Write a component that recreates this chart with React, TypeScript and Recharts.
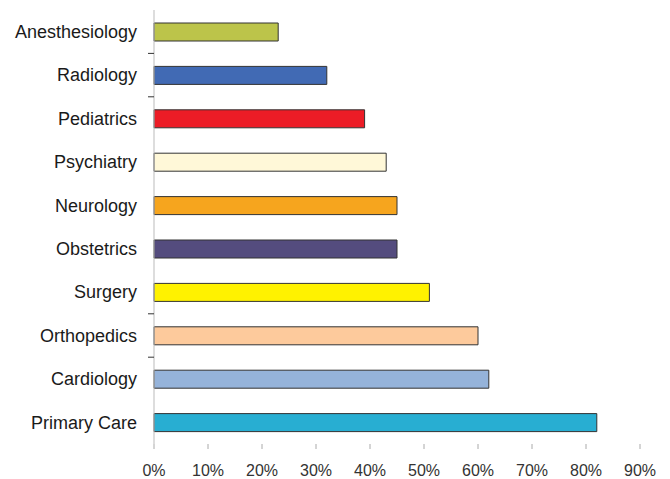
import React from "react";
import { BarChart, Bar, XAxis, YAxis, Cell } from "recharts";

const specialties = [
  "Anesthesiology",
  "Radiology",
  "Pediatrics",
  "Psychiatry",
  "Neurology",
  "Obstetrics",
  "Surgery",
  "Orthopedics",
  "Cardiology",
  "Primary Care",
];
const shares = [23, 32, 39, 43, 45, 45, 51, 60, 62, 82];
const barColors = [
  "#bcc44a",
  "#416ab4",
  "#ec1c26",
  "#fff8d8",
  "#f6a51e",
  "#544c7e",
  "#fff200",
  "#fdca9c",
  "#95b3da",
  "#28aed2",
];
const percentTicks = [0, 10, 20, 30, 40, 50, 60, 70, 80, 90];
// the original only shows a few separator marks on the category axis
const markedRows = [0, 1, 6, 7];

const data = specialties.map((name, i) => ({ name, value: shares[i] }));

const FONT = "'Liberation Sans', Arial, sans-serif";
const ROW = 43.4;

const CategoryTick = (props: any) => {
  const { x, y, payload, index } = props;
  const axisX = x + 17;
  return (
    <g>
      <text x={x} y={y} dy="0.355em" textAnchor="end" fontSize={18} fontFamily={FONT} fill="#1a1a1a">
        {payload.value}
      </text>
      {markedRows.includes(index) && (
        <line x1={axisX - 6} x2={axisX} y1={y + ROW / 2} y2={y + ROW / 2} stroke="#333" strokeWidth={1} />
      )}
    </g>
  );
};

export default function App() {
  return (
    <div style={{ position: "absolute", left: 0, top: 0, background: "#fff" }}>
      <BarChart
        width={670}
        height={479}
        data={data}
        layout="vertical"
        margin={{ top: 10, right: 30, bottom: 5, left: 0 }}
        barCategoryGap={0}
      >
        <XAxis
          type="number"
          domain={[0, 90]}
          ticks={percentTicks}
          tickFormatter={(v) => `${v}%`}
          axisLine={false}
          tickLine={{ stroke: "#aaa" }}
          tickSize={5}
          tickMargin={16}
          height={30}
          interval={0}
          tick={{ fontSize: 16, fontFamily: FONT, fill: "#333" }}
        />
        <YAxis
          type="category"
          dataKey="name"
          width={154}
          axisLine={{ stroke: "#bbb" }}
          tickLine={false}
          tickSize={0}
          tickMargin={17}
          interval={0}
          tick={<CategoryTick />}
        />
        <Bar dataKey="value" barSize={18} stroke="#333" strokeWidth={1} isAnimationActive={false}>
          {data.map((d, i) => (
            <Cell key={d.name} fill={barColors[i]} />
          ))}
        </Bar>
      </BarChart>
    </div>
  );
}
